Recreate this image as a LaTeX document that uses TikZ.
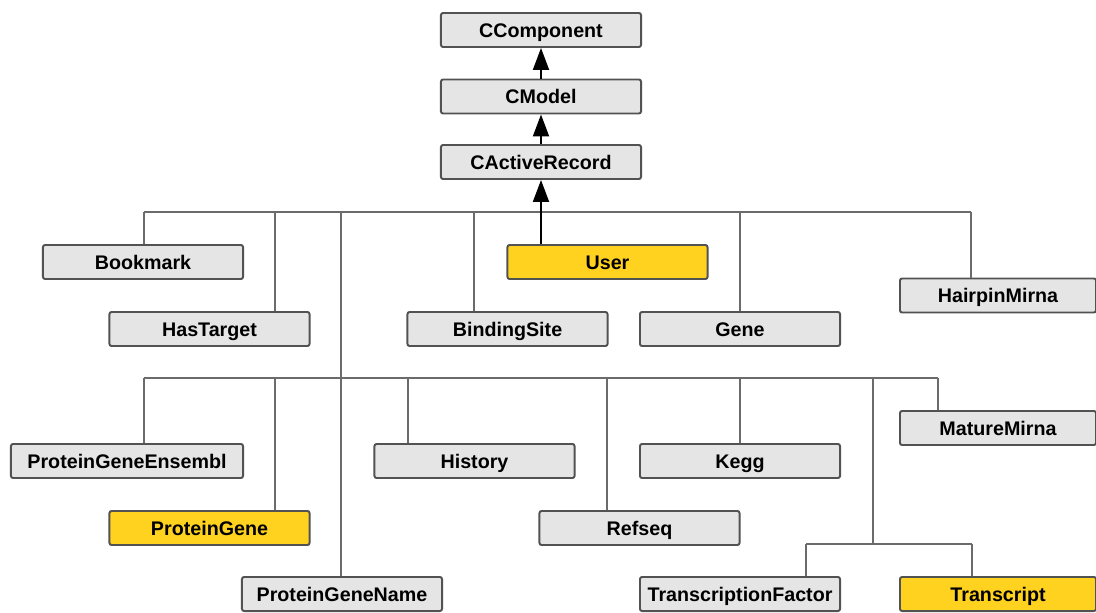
\documentclass[tikz,border=0pt]{standalone}
\usepackage{fontspec}
\setmainfont{Liberation Sans}
\usepackage{tikz}
\usetikzlibrary{arrows.meta,positioning}
\colorlet{clsFill}{black!10}
\definecolor{clsHigh}{RGB}{255,210,32}
\colorlet{clsEdge}{black!68}
\colorlet{busLine}{black!58}

\tikzset{
  cls/.style={draw=clsEdge, line width=1.4pt, fill=clsFill, rounded corners=1.5pt,
    minimum width=5cm, minimum height=0.85cm, inner sep=0pt,
    text height=11pt, text depth=1pt,
    font=\fontsize{14}{16}\selectfont\bfseries},
  hot/.style={cls, fill=clsHigh},
  bus/.style={draw=busLine, line width=1.4pt},
  inh/.style={draw=black, line width=1.4pt, -{Triangle[length=0.55cm,width=0.4cm]}}
}

\begin{document}
\begin{tikzpicture}[x=0.025cm,y=-0.025cm]
        \useasboundingbox (0,0) rectangle (1096,612);
        % Framework chain
        \node[cls] (comp) at (541,30) {CComponent};
        \node[cls] (model) at (541,96.5) {CModel};
        \node[cls] (active) at (541,162) {CActiveRecord};
        \draw[inh] (model) -- (comp);
        \draw[inh] (active) -- (model);
        % First row of models
        \node[cls] (bookmark) at (143,262) {Bookmark};
        \node[cls] (hastarget) at (209.5,329) {HasTarget};
        \node[cls] (binding) at (507.5,329) {BindingSite};
        \node[hot] (user) at (607.5,262) {User};
        \node[cls] (gene) at (740,329) {Gene};
        \node[cls, minimum width=4.9cm] (hairpin) at (998,295.5) {HairpinMirna};
        % Second row of models
        \node[cls, minimum width=5.8cm] (pgensembl) at (127,461) {ProteinGeneEnsembl};
        \node[hot] (pgene) at (209.5,528) {ProteinGene};
        \node[cls] (pgname) at (342,594) {ProteinGeneName};
        \node[cls] (history) at (474.5,461) {History};
        \node[cls] (refseq) at (639.5,528) {Refseq};
        \node[cls] (kegg) at (740,461) {Kegg};
        \node[cls, minimum width=4.9cm] (mature) at (998,428) {MatureMirna};
        \node[cls] (tfactor) at (740,594) {TranscriptionFactor};
        \node[hot, minimum width=4.9cm] (transcript) at (998,594) {Transcript};
        % Upper bus
        \coordinate (ba) at (144,212);
        \coordinate (bb) at (275,212);
        \coordinate (bc) at (341,212);
        \coordinate (bd) at (474,212);
        \coordinate (be) at (541,212);
        \coordinate (bf) at (740,212);
        \coordinate (bg) at (971,212);
        \draw[bus] (ba) -- (bg);
        \draw[bus] (ba) -- (ba |- bookmark.north);
        \draw[bus] (bb) -- (bb |- hastarget.north);
        \draw[bus] (bc) -- (bc |- pgname.north);
        \draw[bus] (bd) -- (bd |- binding.north);
        \draw[bus] (bf) -- (bf |- gene.north);
        \draw[bus] (bg) -- (bg |- hairpin.north);
        \draw[inh] (be |- user.north) -- (be |- active.south);
        % Lower bus
        \coordinate (ca) at (144,378);
        \coordinate (cb) at (275,378);
        \coordinate (cc) at (408,378);
        \coordinate (cd) at (607,378);
        \coordinate (ce) at (740,378);
        \coordinate (cf) at (873,378);
        \coordinate (cg) at (938,378);
        \draw[bus] (ca) -- (cg);
        \draw[bus] (ca) -- (ca |- pgensembl.north);
        \draw[bus] (cb) -- (cb |- pgene.north);
        \draw[bus] (cc) -- (cc |- history.north);
        \draw[bus] (cd) -- (cd |- refseq.north);
        \draw[bus] (ce) -- (ce |- kegg.north);
        \draw[bus] (cg) -- (cg |- mature.north);
        % Bottom fork
        \coordinate (da) at (806,544);
        \coordinate (db) at (972,544);
        \draw[bus] (cf) -- (cf |- da);
        \draw[bus] (da) -- (db);
        \draw[bus] (da) -- (da |- tfactor.north);
        \draw[bus] (db) -- (db |- transcript.north);
      \end{tikzpicture}
\end{document}
